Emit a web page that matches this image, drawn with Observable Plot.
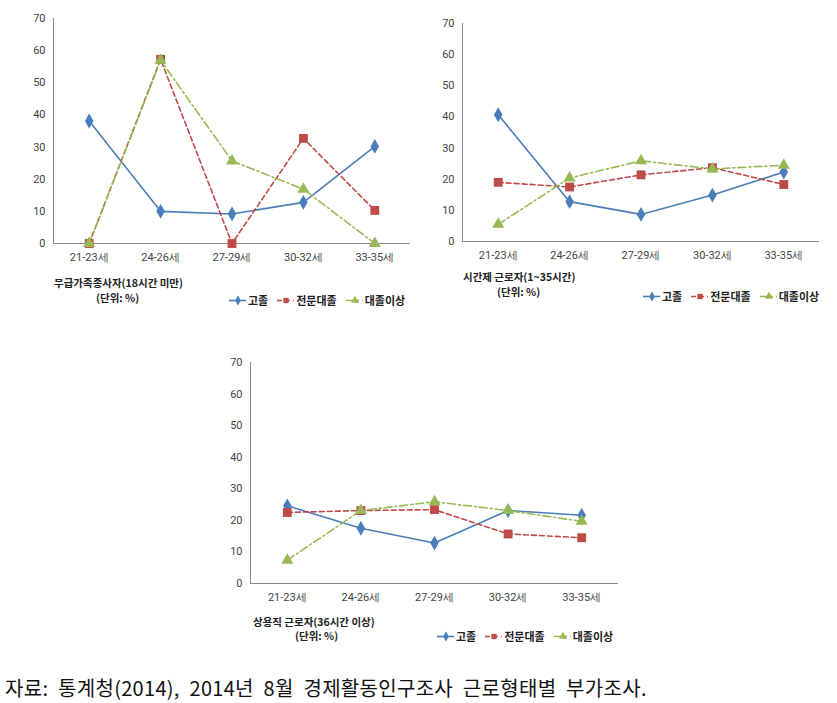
<!DOCTYPE html>
<html><head><meta charset="utf-8">
<script src="https://cdn.jsdelivr.net/npm/d3@7"></script>
<script src="https://cdn.jsdelivr.net/npm/@observablehq/plot@0.6"></script>
<style>
body{margin:0;background:#fff;font-family:"Noto Sans CJK KR",sans-serif;}
#wrap{position:relative;width:837px;height:703px;overflow:hidden;}
.p{position:absolute;}
.t{position:absolute;font-size:10.5px;font-weight:bold;color:#222;white-space:nowrap;line-height:12px;}
.lg{position:absolute;font-size:11px;font-weight:bold;color:#222;white-space:nowrap;display:flex;align-items:center;line-height:12px;}
.lg span.it{display:inline-flex;align-items:center;margin-right:9px;}
.cap{position:absolute;left:5px;top:675px;font-size:20px;line-height:25px;word-spacing:5px;letter-spacing:0.3px;color:#111;white-space:nowrap;}
</style></head>
<body><div id="wrap"></div>
<script>
const categories = ["21-23세","24-26세","27-29세","30-32세","33-35세"];
const seriesNames = ["고졸","전문대졸","대졸이상"];
const titles = ["무급가족종사자(18시간 미만)","시간제 근로자(1~35시간)","상용직 근로자(36시간 이상)"];
const unitLabel = "(단위: %)";
const caption = "자료: 통계청(2014), 2014년 8월 경제활동인구조사 근로형태별 부가조사.";
const yTicks = [0,10,20,30,40,50,60,70];

// Panel 1: 무급가족종사자
const p1_high = [38.1, 10.0, 9.2, 12.8, 30.2];
const p1_college = [0, 57.3, 0, 32.7, 10.3];
const p1_univ = [0, 57.0, 25.7, 16.9, 0];
// Panel 2: 시간제 근로자
const p2_high = [40.7, 12.8, 8.7, 14.9, 22.3];
const p2_college = [19.0, 17.5, 21.4, 23.7, 18.3];
const p2_univ = [5.5, 20.4, 25.9, 23.3, 24.5];
// Panel 3: 상용직 근로자
const p3_high = [24.6, 17.5, 12.8, 23.1, 21.6];
const p3_college = [22.5, 23.1, 23.4, 15.7, 14.5];
const p3_univ = [7.4, 23.1, 25.9, 23.1, 19.7];

const colors = ["#4a7ebb","#be4b48","#98b954"];
const symbols = ["diamond","square","triangle"];
const dashes = [null,"5,3","8,3,2,3"];

const panels = [
  {data:[p1_high,p1_college,p1_univ], left:0, top:0, width:420, height:270, ml:53, mr:10, mt:18, mb:27,
   title:{x:54,y:277}, unit:{x:96,y:292}, legend:{x:229,y:294}},
  {data:[p2_high,p2_college,p2_univ], left:410, top:0, width:420, height:270, ml:52, mr:11, mt:23, mb:29,
   title:{x:463,y:271}, unit:{x:497,y:286}, legend:{x:643,y:290}},
  {data:[p3_high,p3_college,p3_univ], left:210, top:320, width:420, height:290, ml:40, mr:12, mt:42, mb:27,
   title:{x:253,y:616}, unit:{x:295,y:630}, legend:{x:437,y:630}}
];

const wrap = document.getElementById("wrap");

panels.forEach((p, pi) => {
  const rows = [];
  p.data.forEach((arr, si) => arr.forEach((v, i) => rows.push({i, v, s: seriesNames[si]})));
  const marks = [
    Plot.ruleY([0], {stroke:"#8a8a8a"}),
    Plot.ruleX([-0.5], {stroke:"#8a8a8a"}),
  ];
  seriesNames.forEach((s, si) => {
    const d = rows.filter(r => r.s === s);
    marks.push(Plot.line(d, {x:"i", y:"v", stroke: colors[si], strokeWidth: 1.6, strokeDasharray: dashes[si] || undefined}));
  });
  seriesNames.forEach((s, si) => {
    const d = rows.filter(r => r.s === s);
    marks.push(Plot.dot(d, {x:"i", y:"v", fill: colors[si], stroke: "none", symbol: () => symbols[si], r: si===1 ? 5 : 4.5}));
  });
  const chart = Plot.plot({
    width: p.width, height: p.height,
    marginLeft: p.ml, marginRight: p.mr, marginTop: p.mt, marginBottom: p.mb,
    style: {fontSize:"11px", fontFamily:"Roboto, sans-serif", color:"#444", background:"#fff"},
    symbol: {type:"identity"},
    x: {domain:[-0.5, 4.5], ticks:[0,1,2,3,4], tickFormat: i => categories[i], tickSize:0, tickPadding:10, label:null},
    y: {domain:[0,70], ticks: yTicks, tickSize:0, tickPadding:8, label:null},
    marks
  });
  chart.classList.add("p");
  chart.style.left = p.left + "px";
  chart.style.top = p.top + "px";
  wrap.appendChild(chart);

  const t = document.createElement("div");
  t.className = "t"; t.textContent = titles[pi];
  t.style.left = p.title.x + "px"; t.style.top = p.title.y + "px";
  wrap.appendChild(t);
  const u = document.createElement("div");
  u.className = "t"; u.textContent = unitLabel;
  u.style.left = p.unit.x + "px"; u.style.top = p.unit.y + "px";
  wrap.appendChild(u);

  const lg = document.createElement("div");
  lg.className = "lg";
  lg.style.left = p.legend.x + "px"; lg.style.top = p.legend.y + "px";
  seriesNames.forEach((s, si) => {
    const sp = document.createElement("span"); sp.className = "it";
    const sw = Plot.plot({
      width: 17, height: 12, margin: 0,
      x: {domain:[0,1], axis:null}, y:{domain:[0,1], axis:null},
      symbol: {type:"identity"},
      marks: [
        Plot.ruleY([0.5], {stroke: colors[si], strokeWidth: 1.6, strokeDasharray: dashes[si] || undefined}),
        Plot.dot([0.5], {x: d => d, y: 0.5, fill: colors[si], symbol: () => symbols[si], r: 3})
      ]
    });
    sw.style.marginRight = "2px";
    sp.appendChild(sw);
    const tx = document.createElement("span"); tx.textContent = s;
    sp.appendChild(tx);
    lg.appendChild(sp);
  });
  wrap.appendChild(lg);
});

const c = document.createElement("div");
c.className = "cap"; c.textContent = caption;
wrap.appendChild(c);
</script></body></html>
